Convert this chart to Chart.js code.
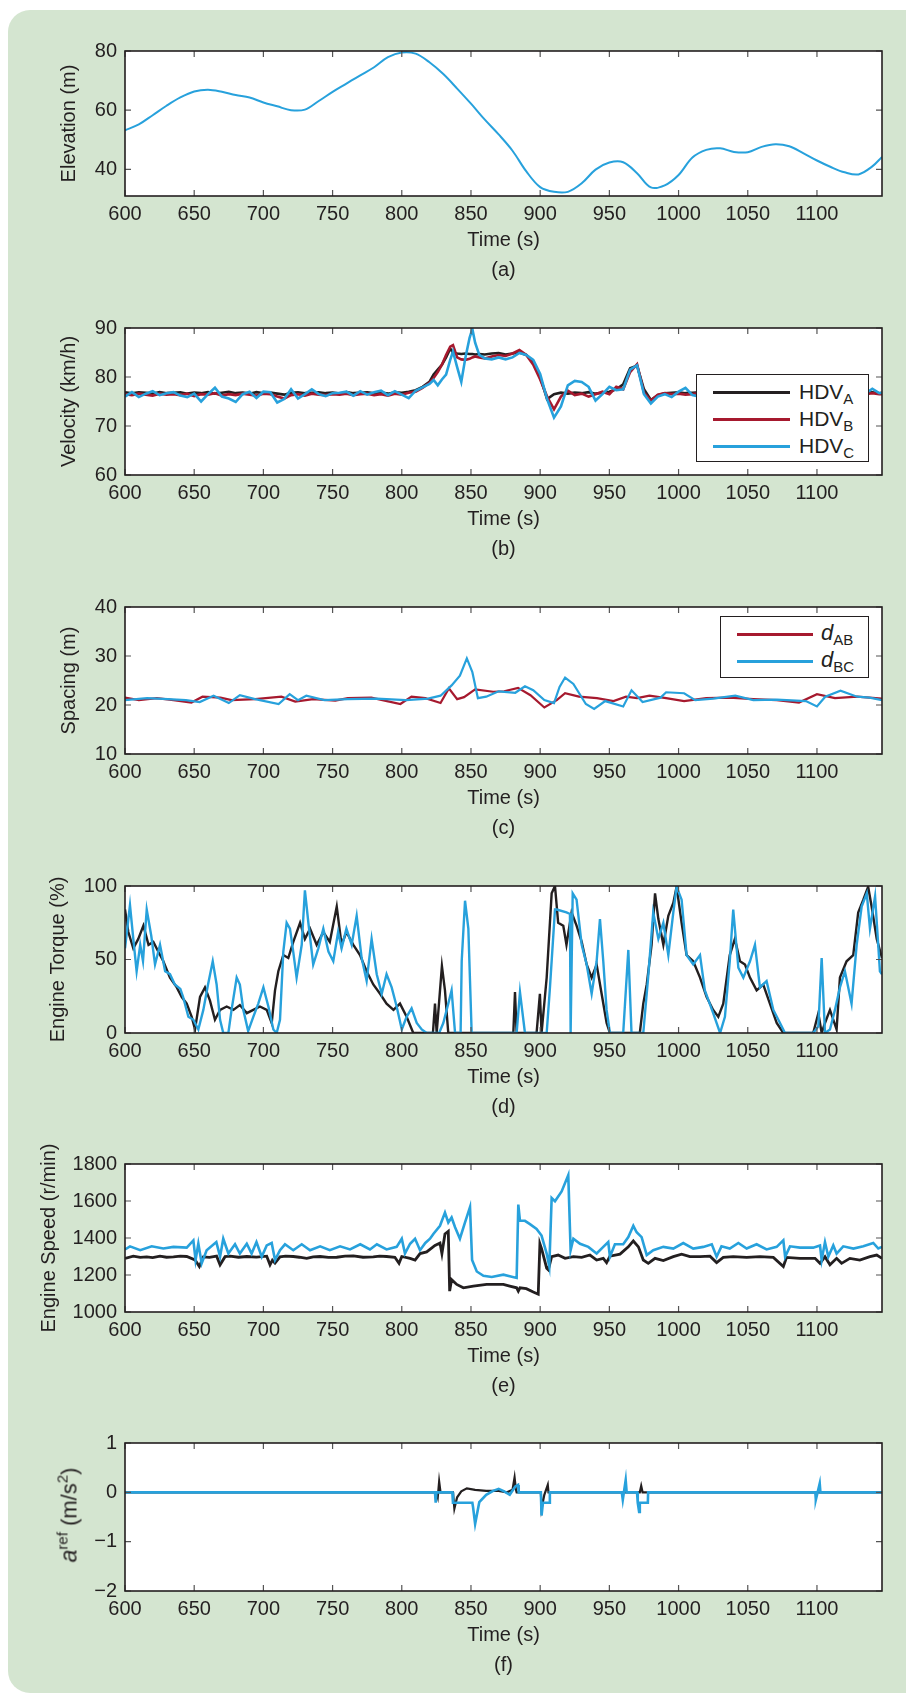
<!DOCTYPE html>
<html>
<head>
<meta charset="utf-8">
<script src="https://cdn.jsdelivr.net/npm/chart.js@4.4.1/dist/chart.umd.min.js"></script>
<style>
html, body { margin: 0; padding: 0; background: #fff; }
body { width: 906px; height: 1693px; position: relative; overflow: hidden;
       font-family: "Liberation Sans", Arial, Helvetica, sans-serif; color: #231f20; }
#panel { position: absolute; left: 8px; top: 10px; width: 960px; height: 1683px;
         background: #d4e5d0; border-radius: 22px; }
#charts canvas { position: absolute; left: 0; }
.legend { position: absolute; background: #fff; border: 1.3px solid #231f20; box-sizing: border-box; }
.legend .ln { position: absolute; height: 2.5px; }
.legend .tx { position: absolute; font-size: 21px; line-height: 22px; white-space: nowrap; }
.legend sub { font-size: 15px; vertical-align: -5px; line-height: 0; }
.legend i { font-size: 22px; }
#arefTitle { position: absolute; left: 69px; top: 1515px; font-size: 22px; line-height: 24px; white-space: nowrap;
             transform: translate(-50%, -50%) rotate(-90deg); }
#arefTitle i { font-size: 23px; }
#arefTitle sup { font-size: 15px; vertical-align: 9px; line-height: 0; }
</style>
</head>
<body>
<div id="panel"></div>
<div id="charts"></div>

<div class="legend" style="left:696px;top:374px;width:173px;height:88px;">
  <div class="ln" style="left:16px;top:16px;width:77px;background:#231f20;"></div>
  <div class="tx" style="left:102px;top:6px;">HDV<sub>A</sub></div>
  <div class="ln" style="left:16px;top:43px;width:77px;background:#a6192e;"></div>
  <div class="tx" style="left:102px;top:33px;">HDV<sub>B</sub></div>
  <div class="ln" style="left:16px;top:70px;width:77px;background:#27a1dc;"></div>
  <div class="tx" style="left:102px;top:60px;">HDV<sub>C</sub></div>
</div>

<div class="legend" style="left:720px;top:616px;width:149px;height:62px;">
  <div class="ln" style="left:16px;top:16px;width:76px;background:#a6192e;"></div>
  <div class="tx" style="left:100px;top:5px;"><i>d</i><sub>AB</sub></div>
  <div class="ln" style="left:16px;top:43px;width:76px;background:#27a1dc;"></div>
  <div class="tx" style="left:100px;top:32px;"><i>d</i><sub>BC</sub></div>
</div>

<div id="arefTitle"><i>a</i><sup>ref</sup> (m/s<sup>2</sup>)</div>

<script>
// ---- data ----
const timeRange = [600, 1147];

const timeElev = [600,610,620,630,640,650,660,670,680,690,700,710,720,730,740,750,760,770,780,790,
  800,810,820,830,840,850,860,870,880,890,900,910,920,930,940,950,960,970,980,990,
  1000,1010,1020,1030,1040,1050,1060,1070,1080,1090,1100,1110,1120,1130,1140,1147];
const elevation = [53.2,55.2,58.3,61.5,64.3,66.3,66.9,66.2,65.1,64.3,62.6,61.3,60.0,60.2,63.1,66.2,69.0,71.8,74.5,77.9,
  79.5,79.1,76.2,72.2,67.3,62.2,56.8,51.8,46.3,39.3,34.0,32.4,32.4,35.3,39.9,42.3,42.4,38.7,33.9,34.6,
  38.1,44.0,46.6,47.1,45.9,45.8,47.6,48.5,47.8,45.5,43.0,40.8,39.0,38.3,41.0,44.2];

const timeVel = [600,605,610,615,620,625,630,635,640,645,650,655,660,665,670,675,680,685,690,695,
  700,705,710,715,720,725,730,735,740,745,750,755,760,765,770,775,780,785,790,795,800,805,810,815,820,
  823,826,829,832,835,837,840,843,846,849,851,853,856,
  860,865,870,875,880,885,890,895,900,905,910,915,920,925,930,935,940,945,950,955,
  960,965,970,975,980,985,990,995,1000,1005,1010,1015,1020,1025,1030,1035,1040,1045,1050,1055,
  1060,1065,1070,1075,1080,1085,1090,1095,1100,1105,1110,1115,1120,1125,1130,1135,1140,1145,1147];
const velHdvA = [76.9,76.7,76.9,76.8,76.6,76.9,76.7,76.8,76.9,76.6,76.8,76.7,76.9,76.6,76.8,77.0,76.7,76.8,76.6,76.9,
  76.7,76.8,76.6,76.4,76.8,76.9,76.7,76.8,76.9,76.7,76.8,76.6,76.9,76.7,76.8,76.9,76.7,76.8,76.6,76.9,76.8,77.0,77.3,78.0,79.0,
  80.5,81.5,82.5,84.0,85.8,85.0,84.8,84.7,84.8,84.7,84.7,84.6,84.7,
  84.6,84.8,84.9,84.6,84.8,85.0,84.5,83.0,80.0,75.5,76.5,76.8,76.6,76.8,76.7,76.9,76.6,76.8,77.0,77.5,
  78.5,81.8,82.3,77.5,75.3,76.3,76.7,76.8,76.9,76.7,76.8,76.9,76.7,76.8,76.6,76.9,76.8,76.7,76.9,76.8,
  76.7,76.8,76.9,76.7,76.8,76.6,76.9,76.8,76.7,76.9,76.8,76.7,76.8,76.9,76.7,76.8,76.9,76.7,76.8];
const velHdvB = [76.5,76.3,76.6,76.4,76.2,76.6,76.4,76.5,76.3,76.6,76.1,76.5,76.4,76.7,76.2,76.5,76.3,76.6,76.4,76.2,
  76.6,76.5,76.0,75.6,76.3,76.5,76.2,76.6,76.4,76.3,76.5,76.4,76.6,76.3,76.5,76.6,76.3,76.5,76.2,76.6,76.4,76.8,77.0,77.8,78.8,
  79.8,81.0,82.5,84.5,86.2,86.5,84.0,83.6,83.5,83.7,84.0,84.2,84.0,
  83.8,84.2,84.5,84.3,84.8,85.5,84.5,82.5,79.5,76.0,73.4,76.0,77.2,76.3,76.6,76.0,76.5,77.0,76.5,78.0,
  77.5,81.0,82.6,76.8,75.2,76.4,76.7,76.5,76.6,76.4,76.5,76.7,76.4,76.6,76.5,76.3,76.6,76.5,76.4,76.7,
  76.5,76.4,76.6,76.5,76.3,76.6,76.5,76.4,76.6,76.5,76.7,76.4,76.5,76.6,76.4,76.5,76.7,76.5,76.5];
const velHdvC = [76.0,76.9,75.9,76.6,77.1,76.3,76.7,76.9,76.2,75.9,76.6,75.0,76.5,77.8,76.0,75.6,74.9,76.5,77.0,75.7,
  77.0,76.9,74.8,75.5,77.5,75.6,76.5,77.5,76.5,76.1,76.7,76.8,77.0,76.2,77.1,76.4,76.9,77.2,76.3,77.1,76.4,75.7,77.2,77.9,78.6,
  79.4,78.3,79.5,80.5,83.5,85.2,82.0,79.0,84.0,88.0,89.8,87.0,84.5,
  83.8,83.6,84.0,83.6,84.0,84.9,84.5,83.5,80.6,75.5,71.7,74.0,78.3,79.2,79.0,78.0,75.2,76.5,78.0,77.3,
  77.5,81.5,82.4,76.5,74.6,76.0,76.5,75.9,77.0,77.8,76.3,76.0,76.8,76.4,77.0,76.3,76.6,77.0,76.4,76.8,
  76.5,77.0,76.3,76.7,77.0,76.4,76.8,76.5,76.9,76.3,76.8,76.5,77.0,76.4,76.8,76.6,77.6,76.7,76.8];

const timeAB = [600,610,623,635,648,656,669,677,694,713,723,736,752,761,778,786,799,807,817,828,
  834,840,845,853,866,874,884,893,903,912,918,928,941,953,962,970,979,991,1004,1020,1037,
  1054,1071,1087,1100,1113,1129,1147];
const spacingAB = [21.5,21.0,21.4,21.0,20.5,21.7,21.5,21.0,21.2,21.7,20.7,21.2,20.9,21.4,21.5,21.0,20.2,21.7,21.4,20.4,
  23.4,21.2,21.6,23.2,22.7,22.8,23.5,22.0,19.5,21.0,22.4,21.7,21.4,20.8,21.7,21.4,21.9,21.4,20.8,21.4,21.5,
  21.2,21.0,20.5,22.2,21.4,21.7,21.3];
const timeBC = [600,616,631,644,654,664,675,683,694,711,719,725,731,744,761,782,803,819,828,836,
  842,847,851,855,861,870,882,889,895,903,910,914,918,924,933,939,947,960,966,974,
  987,991,1004,1012,1025,1041,1054,1071,1092,1100,1106,1117,1129,1138,1147];
const spacingBC = [21.0,21.4,21.2,21.0,20.6,21.9,20.4,22.0,21.2,20.2,22.2,21.0,21.9,21.0,21.2,21.3,21.0,21.3,21.9,24.0,
  26.0,29.5,26.7,21.4,21.7,22.8,22.5,23.8,23.0,21.0,20.4,23.7,25.6,24.3,20.2,19.2,20.8,19.7,23.0,20.6,
  21.5,22.6,22.4,21.0,21.3,21.9,21.0,21.1,20.8,19.7,21.7,22.9,21.7,21.5,21.0];

const timeTorqueA = [600,602.4,606,609.6,613.3,617,620.5,624,627.7,632.5,637.4,641,644.6,648.2,650.6,654.2,657.8,661.4,665,668.7,
  673.5,678.3,683,688,692.7,697.5,702.4,706,708.4,710.8,714.4,718,721.6,726.5,730,733.7,738.5,743.3,748,753,
  756.5,760,765,769.8,774.6,779.4,784.3,789,794,798.7,803.5,808.3,822.5,824,825.2,829,831.2,833.6,880.6,881.8,
  883,897.4,899.8,901,904.7,908.3,910.7,913,916.7,919,922.7,926.3,930,933.6,937.2,940.8,944.4,948,950.4,972,
  974.5,977,980.5,983,985.4,989,992.6,996.2,998.6,1002.2,1005.8,1010.6,1015.5,1020.3,1025,1028.7,1032.3,1037,1040.7,1044.4,
  1048,1051.6,1056.4,1061.2,1066,1070.9,1075.7,1097.3,1101,1103.4,1105.8,1109.4,1114.2,1116.6,1121.4,1126.2,1129.8,1133.5,1137,1139.5,
  1143.2,1147];
const torqueA = [84,68.7,57.6,64,73,60,62,55.4,48.8,37.7,31,24.5,20,11,2.4,24.5,31,22,9,15.7,
  18,15.7,19,13.5,15.7,18,15.7,6.8,29,42,53,51,62,75,64,71,60,68.7,62,86,
  60,68.7,60,53,42,33,26.7,20,15.7,20,11,0,0,20,0,45.5,29,0,0,27.8,
  0,0,26.7,0,37.7,95,100,75,73,60,82,73,62,46.6,37.7,46.6,26.7,6.8,0,0,
  20,33,60,95,77.5,60,79.7,88.5,99.5,75,53,48.8,37.7,24.5,15.7,11,20,53,64,48.8,
  46.6,37.7,29,33,20,6.8,0,0,13.5,0,6.8,15.7,2.4,37.7,48.8,53,82,90.7,99.5,86,
  64,51];
const timeTorqueC = [600,603.6,606,608.4,611,613,615.7,619,621.7,625.3,629,632.5,636,640,642,645.8,649.4,653,656.6,660,
  663.4,666.2,668.7,671,674.7,677,680.7,683,685.5,689,692.7,696.3,700,703.6,707.2,709.6,712,714.4,716.8,719.2,
  721.6,724,727.7,730,732.5,736,739.7,743.3,747,750.5,754,756.5,760,763.8,767.4,771,774.6,778.2,781.9,785.5,
  789,792.7,796.3,800,803.5,807.1,810.8,814.4,818,827,830,833.6,836,838.5,842.5,843.3,845.7,848.1,850.5,883,
  885.4,889,904.7,907,910.7,912,919,921.5,922,923.5,926.3,930,933.6,937.2,940.8,943.2,945.6,948,950.4,960,
  963.7,966,974.5,978,981.7,985.4,989,992.6,996.2,998.6,1002.2,1005.8,1010.6,1015.5,1019,1025,1030,1033.5,1037,1039.5,
  1043.2,1046.8,1051.6,1055.2,1058.8,1063.6,1068.5,1073.3,1076.9,1097.3,1101,1103.4,1105.8,1109.4,1113,1116.6,1120.2,1125,1128.7,1132.3,
  1136,1138.3,1142,1145.5,1147];
const torqueC = [57.6,87,64,42,60,49,84,66,46.6,60,42,40,33,30,24.5,11,9,2.4,15.7,33,
  48.8,33,9,0,0,15.7,37.7,33,15.7,1.3,11,20,31,18,2.4,0,9,55.4,75,71,
  55,37.7,60,97,75,46.6,57.6,71,55.4,48.8,68.7,57.6,71,60,79.7,51,35.5,64,40,26.7,
  40,31,18,2.4,11,16.8,6.8,2.4,0,0,6.8,20,29,0,0,49,90,71,0,0,
  27.8,0,0,30,84,84,82,81,0,95,90.7,60,46.6,26.7,48.8,77.5,48.8,15.7,0,0,
  56.5,0,0,37.7,82,64,75,53,82,99.5,90.7,53,46.6,53,29,13.5,0,11,48.8,84,
  44.4,37.7,48.8,60,31,35.3,15.7,6.8,0,0,4.6,51,0,2.4,15.7,31,42,20,60,86,
  95,71,93,42,40];

const timeSpeedA = [600,606,611,615.7,620,625.3,630,635,640,644.6,650.6,653.7,656.6,661,666.2,668.7,672.3,676,682,688,
  695,702.4,704.8,706.5,708.4,712,716,721.6,726,731.3,736,741,747,753,759,765,772,779.4,784,789,
  795,798,800,806,809.6,813.2,818,824,827.6,829,831.2,833.6,834.6,836,839.7,844.5,851.7,861.3,873.4,878,
  883,884.2,885.4,890,895,898.6,899.8,901,904.7,905.9,908.3,913,918,924,930,936,940.8,945.6,948,950.4,
  957.7,963.7,967.3,971,974.5,978.1,983,989,996.2,1002.2,1008.2,1015.5,1022.7,1027.5,1032.3,1039.5,1049.2,1058.8,1068.5,1075.7,
  1078,1087.7,1098.6,1102.2,1105.8,1109.4,1114.2,1117.8,1123.8,1131,1138.3,1143.2,1147];
const speedA = [1290,1302,1295,1298,1294,1302,1296,1298,1302,1300,1282,1246,1298,1295,1302,1255,1299,1302,1296,1300,
  1297,1302,1255,1280,1264,1298,1302,1300,1296,1290,1298,1300,1295,1296,1302,1303,1296,1298,1302,1300,
  1296,1263,1300,1290,1281,1316,1325,1360,1373,1316,1422,1436,1113,1175,1149,1131,1140,1149,1149,1140,
  1131,1113,1131,1126,1108,1096,1369,1343,1237,1228,1299,1308,1290,1299,1295,1308,1281,1290,1267,1302,
  1313,1352,1384,1352,1281,1263,1290,1278,1299,1313,1299,1299,1302,1267,1295,1299,1295,1299,1295,1246,
  1295,1290,1290,1263,1299,1255,1290,1263,1290,1281,1299,1308,1290];
const timeSpeedC = [600,603.6,611,619.3,627.7,635,644.6,649.4,651,653,655.4,659,666,668.7,671,674.7,679.5,683,688,691.5,
  695,698.8,702.4,706,708.4,712,715.6,721.6,727.7,733.7,741,748,755.4,762.6,770,777,782,789,796.3,800,
  802.3,806,809.6,813.2,817,820.4,822.8,827.6,831.2,833.6,836,838.5,842,845.7,849.3,850.8,854.2,859,865,873.4,
  878,883,884.2,885.4,889,892.6,897.4,901,904.7,906.6,908.3,910.7,915.5,920.3,922,924,928.8,934.8,940.8,945.6,
  949.2,950.4,954,960,963.7,967.3,969.7,973.3,977,981.7,989,996.2,1003.4,1010.6,1017.9,1024,1027.5,1031,1037,1043.2,
  1049.2,1056.4,1063.6,1070.9,1075.7,1077,1080.5,1087.7,1097.3,1102.2,1103.4,1105.8,1108.2,1111.8,1114.2,1119,1126.3,1133.5,1140.7,1144.3,
  1147];
const speedC = [1338,1355,1334,1355,1343,1352,1348,1387,1281,1370,1263,1334,1378,1299,1396,1316,1366,1316,1369,1316,
  1378,1299,1360,1373,1281,1334,1366,1334,1366,1334,1355,1334,1355,1338,1366,1338,1366,1338,1352,1396,
  1316,1369,1396,1334,1373,1396,1422,1466,1537,1484,1511,1458,1396,1484,1567,1281,1219,1196,1189,1202,
  1193,1184,1581,1493,1493,1475,1449,1413,1316,1246,1616,1599,1652,1740,1334,1396,1369,1352,1316,1352,
  1378,1299,1366,1366,1405,1466,1431,1405,1308,1334,1352,1343,1373,1343,1352,1366,1299,1355,1343,1373,
  1343,1366,1338,1352,1387,1299,1355,1348,1348,1360,1281,1378,1299,1360,1316,1355,1343,1355,1373,1343,
  1352];

const timeArefA = [600,825,826,827,828,837,838,840,843,847,853,861,870,876,880,881.5,882.5,883,900.5,901,
  903,905.5,906,972,973,974,1147];
const arefA = [0,0,-0.1,0.22,0,0,-0.33,-0.1,0.02,0.08,0.05,0.03,0.03,0,0.05,0.3,0.05,0,0,-0.33,
  -0.05,0.15,0,0,0.13,0,0];
const timeArefC = [600,824,824.5,825,836.5,837,851,851.5,853,856,861,866,870,874,878,882,884,884.5,900.5,901,
  902,906.7,907,959,959.7,961.8,962.5,970,970.5,971.5,972,977.8,978,1098.8,1099.2,1102,1102.5,1147];
const arefC = [0,0,-0.21,0,0,-0.21,-0.21,-0.3,-0.64,-0.2,-0.05,0.03,0.07,0.02,-0.05,0.12,0.15,0,0,-0.47,
  -0.21,-0.21,0,0,-0.15,0.25,0,0,-0.21,-0.4,-0.21,-0.21,0,0,-0.15,0.18,0,0];

// ---- drawing ----
const BLACK = '#231f20', RED = '#a6192e', BLUE = '#27a1dc';
const FONT = '"Liberation Sans", Arial, Helvetica, sans-serif';
Chart.defaults.font.family = FONT;
Chart.defaults.color = BLACK;

function pts(ts, vs) {
    return ts.map((t, i) => ({ x: t, y: vs[i] }));
}

function series(label, ts, vs, color, width, order, tension) {
    return {
        label: label,
        data: pts(ts, vs),
        borderColor: color,
        borderWidth: width,
        pointRadius: 0,
        fill: false,
        tension: tension || 0,
        order: order
    };
}

// white plot area, inward ticks on all four sides, black box
const boxPlugin = {
    id: 'box',
    beforeDraw(chart) {
        const { ctx, chartArea: a } = chart;
        ctx.save();
        ctx.fillStyle = '#fff';
        ctx.fillRect(a.left, a.top, a.right - a.left, a.bottom - a.top);
        ctx.restore();
    },
    afterDatasetsDraw(chart) {
        const { ctx, chartArea: a } = chart;
        const x = chart.scales.x, y = chart.scales.y;
        ctx.save();
        ctx.strokeStyle = '#555';
        ctx.lineWidth = 1.2;
        ctx.beginPath();
        x.ticks.forEach(t => {
            const px = x.getPixelForValue(t.value);
            ctx.moveTo(px, a.bottom); ctx.lineTo(px, a.bottom - 6);
            ctx.moveTo(px, a.top); ctx.lineTo(px, a.top + 6);
        });
        y.ticks.forEach(t => {
            const py = y.getPixelForValue(t.value);
            ctx.moveTo(a.left, py); ctx.lineTo(a.left + 6, py);
            ctx.moveTo(a.right, py); ctx.lineTo(a.right - 6, py);
        });
        ctx.stroke();
        ctx.strokeStyle = BLACK;
        ctx.lineWidth = 1.6;
        ctx.strokeRect(a.left, a.top, a.right - a.left, a.bottom - a.top);
        ctx.restore();
    }
};

const PAD_TOP = 16;

function makePanel(p) {
    const h = PAD_TOP + p.plotH + 90;
    const canvas = document.createElement('canvas');
    canvas.width = 906;
    canvas.height = h;
    canvas.style.width = '906px';
    canvas.style.height = h + 'px';
    canvas.style.top = (p.top - PAD_TOP) + 'px';
    document.getElementById('charts').appendChild(canvas);

    new Chart(canvas, {
        type: 'line',
        data: { datasets: p.datasets },
        plugins: [boxPlugin],
        options: {
            responsive: false,
            animation: false,
            events: [],
            layout: { padding: { top: PAD_TOP, right: 24, left: 0, bottom: 0 } },
            plugins: { legend: { display: false }, tooltip: { enabled: false } },
            scales: {
                x: {
                    type: 'linear',
                    min: timeRange[0],
                    max: timeRange[1],
                    afterFit: s => { s.height = 90; },
                    grid: { display: false, drawTicks: false },
                    border: { display: false },
                    ticks: {
                        stepSize: 50, includeBounds: false, autoSkip: false, maxRotation: 0,
                        padding: 6, color: BLACK,
                        font: { size: 20, lineHeight: 1.2 },
                        callback: v => String(v)
                    },
                    title: {
                        display: true, text: ['Time (s)', p.caption], color: BLACK,
                        font: { size: 20, lineHeight: 1.5 },
                        padding: { top: 0, bottom: 1 }
                    }
                },
                y: {
                    type: 'linear',
                    min: p.yMin,
                    max: p.yMax,
                    afterFit: s => { s.width = 125; },
                    grid: { display: false, drawTicks: false },
                    border: { display: false },
                    ticks: {
                        stepSize: p.yStep, includeBounds: false, padding: 8, color: BLACK,
                        font: { size: 20, lineHeight: 1.2 },
                        callback: v => v < 0 ? '\u2212' + Math.abs(v) : String(v)
                    },
                    title: {
                        display: !!p.yTitle, text: p.yTitle, color: BLACK,
                        font: { size: 20, lineHeight: 1.2 },
                        padding: { top: p.titlePad, bottom: 0 }
                    }
                }
            }
        }
    });
}

makePanel({
    top: 47, plotH: 149, yMin: 31, yMax: 80, yStep: 20,
    yTitle: 'Elevation (m)', titlePad: 57, caption: '(a)',
    datasets: [series('Elevation', timeElev, elevation, BLUE, 2, 1, 0.35)]
});

makePanel({
    top: 324, plotH: 151, yMin: 60, yMax: 90, yStep: 10,
    yTitle: 'Velocity (km/h)', titlePad: 57, caption: '(b)',
    datasets: [
        series('HDV A', timeVel, velHdvA, BLACK, 2.6, 3),
        series('HDV B', timeVel, velHdvB, RED, 2.6, 2),
        series('HDV C', timeVel, velHdvC, BLUE, 2.6, 1)
    ]
});

makePanel({
    top: 603, plotH: 151, yMin: 10, yMax: 40, yStep: 10,
    yTitle: 'Spacing (m)', titlePad: 57, caption: '(c)',
    datasets: [
        series('d AB', timeAB, spacingAB, RED, 2.2, 2),
        series('d BC', timeBC, spacingBC, BLUE, 2.2, 1)
    ]
});

makePanel({
    top: 882, plotH: 151, yMin: 0, yMax: 100, yStep: 50,
    yTitle: 'Engine Torque (%)', titlePad: 46, caption: '(d)',
    datasets: [
        series('Torque A', timeTorqueA, torqueA, BLACK, 2.4, 2),
        series('Torque C', timeTorqueC, torqueC, BLUE, 2.4, 1)
    ]
});

makePanel({
    top: 1160, plotH: 152, yMin: 1000, yMax: 1800, yStep: 200,
    yTitle: 'Engine Speed (r/min)', titlePad: 37, caption: '(e)',
    datasets: [
        series('Speed A', timeSpeedA, speedA, BLACK, 2.8, 2),
        series('Speed C', timeSpeedC, speedC, BLUE, 2.6, 1)
    ]
});

makePanel({
    top: 1439, plotH: 152, yMin: -2, yMax: 1, yStep: 1,
    yTitle: '', titlePad: 0, caption: '(f)',
    datasets: [
        series('aref A', timeArefA, arefA, BLACK, 2.2, 2),
        series('aref C', timeArefC, arefC, BLUE, 2.6, 1)
    ]
});
</script>
</body>
</html>
